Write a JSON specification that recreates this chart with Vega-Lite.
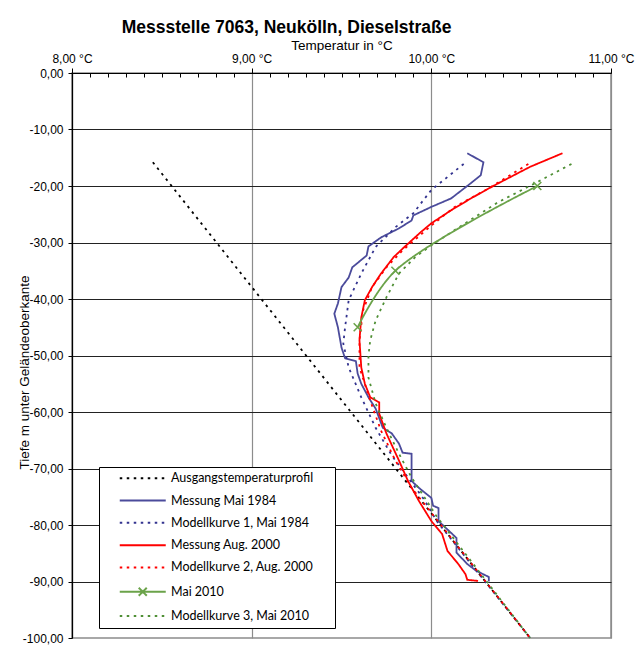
{
  "$schema": "https://vega.github.io/schema/vega-lite/v6.json",
  "width": 539,
  "height": 565,
  "autosize": "none",
  "padding": {"left": 72, "top": 73, "right": 24, "bottom": 20},
  "background": "white",
  "title": {"text": "Messstelle 7063, Neukölln, Dieselstraße", "font": "Liberation Sans", "fontSize": 17.5, "fontWeight": "bold", "color": "black", "anchor": "middle", "dx": -55, "offset": 2},
  "data": {"values": [
    {"s": "Ausgangstemperaturprofil", "i": 0, "t": 8.45, "d": -15.8},
    {"s": "Ausgangstemperaturprofil", "i": 1, "t": 10.55, "d": -100},

    {"s": "Messung Mai 1984", "i": 0, "t": 10.20, "d": -14.2},
    {"s": "Messung Mai 1984", "i": 1, "t": 10.29, "d": -15.8},
    {"s": "Messung Mai 1984", "i": 2, "t": 10.275, "d": -18.1},
    {"s": "Messung Mai 1984", "i": 3, "t": 10.22, "d": -19.5},
    {"s": "Messung Mai 1984", "i": 4, "t": 10.11, "d": -22.2},
    {"s": "Messung Mai 1984", "i": 5, "t": 10.0, "d": -23.7},
    {"s": "Messung Mai 1984", "i": 6, "t": 9.90, "d": -25.2},
    {"s": "Messung Mai 1984", "i": 7, "t": 9.89, "d": -26.1},
    {"s": "Messung Mai 1984", "i": 8, "t": 9.82, "d": -27.5},
    {"s": "Messung Mai 1984", "i": 9, "t": 9.72, "d": -29.1},
    {"s": "Messung Mai 1984", "i": 10, "t": 9.65, "d": -30.7},
    {"s": "Messung Mai 1984", "i": 11, "t": 9.64, "d": -32.3},
    {"s": "Messung Mai 1984", "i": 12, "t": 9.56, "d": -34.4},
    {"s": "Messung Mai 1984", "i": 13, "t": 9.54, "d": -36.2},
    {"s": "Messung Mai 1984", "i": 14, "t": 9.50, "d": -37.9},
    {"s": "Messung Mai 1984", "i": 15, "t": 9.48, "d": -40.8},
    {"s": "Messung Mai 1984", "i": 16, "t": 9.46, "d": -42.6},
    {"s": "Messung Mai 1984", "i": 17, "t": 9.48, "d": -45.0},
    {"s": "Messung Mai 1984", "i": 18, "t": 9.50, "d": -48.6},
    {"s": "Messung Mai 1984", "i": 19, "t": 9.52, "d": -50.5},
    {"s": "Messung Mai 1984", "i": 20, "t": 9.58, "d": -51.0},
    {"s": "Messung Mai 1984", "i": 21, "t": 9.59, "d": -53.2},
    {"s": "Messung Mai 1984", "i": 22, "t": 9.61, "d": -55.0},
    {"s": "Messung Mai 1984", "i": 23, "t": 9.65, "d": -57.4},
    {"s": "Messung Mai 1984", "i": 24, "t": 9.69, "d": -59.4},
    {"s": "Messung Mai 1984", "i": 25, "t": 9.73, "d": -62.8},
    {"s": "Messung Mai 1984", "i": 26, "t": 9.78, "d": -63.8},
    {"s": "Messung Mai 1984", "i": 27, "t": 9.82, "d": -65.6},
    {"s": "Messung Mai 1984", "i": 28, "t": 9.84, "d": -67.2},
    {"s": "Messung Mai 1984", "i": 29, "t": 9.89, "d": -67.4},
    {"s": "Messung Mai 1984", "i": 30, "t": 9.89, "d": -72.2},
    {"s": "Messung Mai 1984", "i": 31, "t": 9.93, "d": -73.4},
    {"s": "Messung Mai 1984", "i": 32, "t": 10.0, "d": -75.2},
    {"s": "Messung Mai 1984", "i": 33, "t": 10.01, "d": -76.6},
    {"s": "Messung Mai 1984", "i": 34, "t": 10.04, "d": -77.0},
    {"s": "Messung Mai 1984", "i": 35, "t": 10.04, "d": -79.3},
    {"s": "Messung Mai 1984", "i": 36, "t": 10.08, "d": -80.5},
    {"s": "Messung Mai 1984", "i": 37, "t": 10.14, "d": -82.3},
    {"s": "Messung Mai 1984", "i": 38, "t": 10.14, "d": -84.9},
    {"s": "Messung Mai 1984", "i": 39, "t": 10.20, "d": -86.9},
    {"s": "Messung Mai 1984", "i": 40, "t": 10.25, "d": -88.1},
    {"s": "Messung Mai 1984", "i": 41, "t": 10.32, "d": -89.2},
    {"s": "Messung Mai 1984", "i": 42, "t": 10.32, "d": -90.0},

    {"s": "Modellkurve 1, Mai 1984", "i": 0, "t": 10.18, "d": -16.1},
    {"s": "Modellkurve 1, Mai 1984", "i": 1, "t": 10.0, "d": -20.7},
    {"s": "Modellkurve 1, Mai 1984", "i": 2, "t": 9.90, "d": -24.8},
    {"s": "Modellkurve 1, Mai 1984", "i": 3, "t": 9.80, "d": -27.3},
    {"s": "Modellkurve 1, Mai 1984", "i": 4, "t": 9.69, "d": -30.8},
    {"s": "Modellkurve 1, Mai 1984", "i": 5, "t": 9.61, "d": -35.5},
    {"s": "Modellkurve 1, Mai 1984", "i": 6, "t": 9.54, "d": -40.2},
    {"s": "Modellkurve 1, Mai 1984", "i": 7, "t": 9.52, "d": -45.0},
    {"s": "Modellkurve 1, Mai 1984", "i": 8, "t": 9.51, "d": -47.9},
    {"s": "Modellkurve 1, Mai 1984", "i": 9, "t": 9.54, "d": -52.1},
    {"s": "Modellkurve 1, Mai 1984", "i": 10, "t": 9.61, "d": -57.4},
    {"s": "Modellkurve 1, Mai 1984", "i": 11, "t": 9.69, "d": -62.8},
    {"s": "Modellkurve 1, Mai 1984", "i": 12, "t": 9.78, "d": -67.7},
    {"s": "Modellkurve 1, Mai 1984", "i": 13, "t": 9.87, "d": -71.6},
    {"s": "Modellkurve 1, Mai 1984", "i": 14, "t": 9.96, "d": -75.5},
    {"s": "Modellkurve 1, Mai 1984", "i": 15, "t": 10.03, "d": -79.3},
    {"s": "Modellkurve 1, Mai 1984", "i": 16, "t": 10.55, "d": -100},

    {"s": "Messung Aug. 2000", "i": 0, "t": 10.73, "d": -14.2},
    {"s": "Messung Aug. 2000", "i": 1, "t": 10.55, "d": -16.6},
    {"s": "Messung Aug. 2000", "i": 2, "t": 10.35, "d": -19.9},
    {"s": "Messung Aug. 2000", "i": 3, "t": 10.22, "d": -22.2},
    {"s": "Messung Aug. 2000", "i": 4, "t": 10.11, "d": -24.3},
    {"s": "Messung Aug. 2000", "i": 5, "t": 10.0, "d": -26.6},
    {"s": "Messung Aug. 2000", "i": 6, "t": 9.94, "d": -28.2},
    {"s": "Messung Aug. 2000", "i": 7, "t": 9.85, "d": -30.8},
    {"s": "Messung Aug. 2000", "i": 8, "t": 9.79, "d": -32.6},
    {"s": "Messung Aug. 2000", "i": 9, "t": 9.72, "d": -35.5},
    {"s": "Messung Aug. 2000", "i": 10, "t": 9.67, "d": -37.9},
    {"s": "Messung Aug. 2000", "i": 11, "t": 9.63, "d": -40.2},
    {"s": "Messung Aug. 2000", "i": 12, "t": 9.61, "d": -43.3},
    {"s": "Messung Aug. 2000", "i": 13, "t": 9.60, "d": -47.3},
    {"s": "Messung Aug. 2000", "i": 14, "t": 9.61, "d": -52.1},
    {"s": "Messung Aug. 2000", "i": 15, "t": 9.63, "d": -55.0},
    {"s": "Messung Aug. 2000", "i": 16, "t": 9.66, "d": -57.4},
    {"s": "Messung Aug. 2000", "i": 17, "t": 9.71, "d": -58.3},
    {"s": "Messung Aug. 2000", "i": 18, "t": 9.71, "d": -60.3},
    {"s": "Messung Aug. 2000", "i": 19, "t": 9.75, "d": -63.8},
    {"s": "Messung Aug. 2000", "i": 20, "t": 9.82, "d": -68.6},
    {"s": "Messung Aug. 2000", "i": 21, "t": 9.87, "d": -72.2},
    {"s": "Messung Aug. 2000", "i": 22, "t": 9.93, "d": -75.7},
    {"s": "Messung Aug. 2000", "i": 23, "t": 10.0, "d": -79.3},
    {"s": "Messung Aug. 2000", "i": 24, "t": 10.06, "d": -81.6},
    {"s": "Messung Aug. 2000", "i": 25, "t": 10.09, "d": -84.6},
    {"s": "Messung Aug. 2000", "i": 26, "t": 10.15, "d": -86.9},
    {"s": "Messung Aug. 2000", "i": 27, "t": 10.19, "d": -88.7},
    {"s": "Messung Aug. 2000", "i": 28, "t": 10.20, "d": -89.7},
    {"s": "Messung Aug. 2000", "i": 29, "t": 10.26, "d": -89.9},

    {"s": "Modellkurve 2, Aug. 2000", "i": 0, "t": 10.54, "d": -16.1},
    {"s": "Modellkurve 2, Aug. 2000", "i": 1, "t": 10.32, "d": -20.4},
    {"s": "Modellkurve 2, Aug. 2000", "i": 2, "t": 10.13, "d": -23.7},
    {"s": "Modellkurve 2, Aug. 2000", "i": 3, "t": 10.0, "d": -27.0},
    {"s": "Modellkurve 2, Aug. 2000", "i": 4, "t": 9.84, "d": -31.4},
    {"s": "Modellkurve 2, Aug. 2000", "i": 5, "t": 9.75, "d": -34.4},
    {"s": "Modellkurve 2, Aug. 2000", "i": 6, "t": 9.67, "d": -37.9},
    {"s": "Modellkurve 2, Aug. 2000", "i": 7, "t": 9.62, "d": -42.0},
    {"s": "Modellkurve 2, Aug. 2000", "i": 8, "t": 9.60, "d": -47.3},
    {"s": "Modellkurve 2, Aug. 2000", "i": 9, "t": 9.60, "d": -52.1},
    {"s": "Modellkurve 2, Aug. 2000", "i": 10, "t": 9.66, "d": -58.0},
    {"s": "Modellkurve 2, Aug. 2000", "i": 11, "t": 9.72, "d": -63.3},
    {"s": "Modellkurve 2, Aug. 2000", "i": 12, "t": 9.80, "d": -68.6},
    {"s": "Modellkurve 2, Aug. 2000", "i": 13, "t": 9.89, "d": -73.4},
    {"s": "Modellkurve 2, Aug. 2000", "i": 14, "t": 10.55, "d": -100},

    {"s": "Mai 2010", "i": 0, "t": 10.59, "d": -20},
    {"s": "Mai 2010", "i": 1, "t": 9.80, "d": -35},
    {"s": "Mai 2010", "i": 2, "t": 9.59, "d": -45},

    {"s": "Modellkurve 3, Mai 2010", "i": 0, "t": 10.78, "d": -16.1},
    {"s": "Modellkurve 3, Mai 2010", "i": 1, "t": 10.59, "d": -19.3},
    {"s": "Modellkurve 3, Mai 2010", "i": 2, "t": 10.37, "d": -22.9},
    {"s": "Modellkurve 3, Mai 2010", "i": 3, "t": 10.13, "d": -27.8},
    {"s": "Modellkurve 3, Mai 2010", "i": 4, "t": 10.0, "d": -30.5},
    {"s": "Modellkurve 3, Mai 2010", "i": 5, "t": 9.91, "d": -32.6},
    {"s": "Modellkurve 3, Mai 2010", "i": 6, "t": 9.82, "d": -35.5},
    {"s": "Modellkurve 3, Mai 2010", "i": 7, "t": 9.75, "d": -39.7},
    {"s": "Modellkurve 3, Mai 2010", "i": 8, "t": 9.69, "d": -43.8},
    {"s": "Modellkurve 3, Mai 2010", "i": 9, "t": 9.66, "d": -47.3},
    {"s": "Modellkurve 3, Mai 2010", "i": 10, "t": 9.65, "d": -50.0},
    {"s": "Modellkurve 3, Mai 2010", "i": 11, "t": 9.65, "d": -53.9},
    {"s": "Modellkurve 3, Mai 2010", "i": 12, "t": 9.69, "d": -58.5},
    {"s": "Modellkurve 3, Mai 2010", "i": 13, "t": 9.75, "d": -62.8},
    {"s": "Modellkurve 3, Mai 2010", "i": 14, "t": 9.82, "d": -67.4},
    {"s": "Modellkurve 3, Mai 2010", "i": 15, "t": 9.89, "d": -71.6},
    {"s": "Modellkurve 3, Mai 2010", "i": 16, "t": 9.97, "d": -75.5},
    {"s": "Modellkurve 3, Mai 2010", "i": 17, "t": 10.03, "d": -78.5},
    {"s": "Modellkurve 3, Mai 2010", "i": 18, "t": 10.55, "d": -100}
  ]},
  "encoding": {
    "x": {
      "field": "t", "type": "quantitative",
      "scale": {"domain": [8, 11], "nice": false, "zero": false},
      "axis": {
        "orient": "top",
        "title": "Temperatur in °C",
        "values": [8, 8.1, 8.2, 8.3, 8.4, 8.5, 8.6, 8.7, 8.8, 8.9, 9, 9.1, 9.2, 9.3, 9.4, 9.5, 9.6, 9.7, 9.8, 9.9, 10, 10.1, 10.2, 10.3, 10.4, 10.5, 10.6, 10.7, 10.8, 10.9, 11],
        "labelExpr": "abs(datum.value - round(datum.value)) < 0.001 ? replace(format(datum.value, '.2f'), '.', ',') + ' °C' : ''",
        "labelOverlap": false,
        "labelFlush": false,
        "labelFont": "Liberation Sans",
        "labelFontSize": 12,
        "labelColor": "black",
        "labelPadding": 3,
        "tickSize": {"condition": {"test": "abs(datum.value - round(datum.value)) < 0.001", "value": 5}, "value": -4},
        "tickColor": "black",
        "tickWidth": 1,
        "domainColor": "black",
        "domainWidth": 1.2,
        "grid": true,
        "gridColor": "#8c8c8c",
        "gridWidth": 1.2,
        "gridOpacity": {"condition": {"test": "abs(datum.value - round(datum.value)) < 0.001", "value": 1}, "value": 0},
        "titleFont": "Liberation Sans",
        "titleFontSize": 13.5,
        "titleFontWeight": "normal",
        "titleColor": "black",
        "titlePadding": 0
      }
    },
    "y": {
      "field": "d", "type": "quantitative",
      "scale": {"domain": [-100, 0], "nice": false, "zero": false},
      "axis": {
        "orient": "left",
        "title": "Tiefe m unter Geländeoberkante",
        "values": [-100, -90, -80, -70, -60, -50, -40, -30, -20, -10, 0],
        "labelExpr": "(datum.value < 0 ? '-' : '') + replace(format(abs(datum.value), '.2f'), '.', ',')",
        "labelOverlap": false,
        "labelFlush": false,
        "labelFont": "Liberation Sans",
        "labelFontSize": 12,
        "labelColor": "black",
        "labelPadding": 5,
        "tickSize": 4,
        "tickColor": "black",
        "domainColor": "black",
        "domainWidth": 1.2,
        "grid": true,
        "gridColor": "#222222",
        "gridWidth": 1,
        "gridOpacity": {"condition": {"test": "datum.value > -99", "value": 1}, "value": 0},
        "titleFont": "Liberation Sans",
        "titleFontSize": 13.5,
        "titleFontWeight": "normal",
        "titleColor": "black",
        "titleX": -41,
        "titleY": 299
      }
    }
  },
  "layer": [
    {
      "transform": [{"filter": "datum.s !== 'Mai 2010'"}],
      "mark": {"type": "line", "strokeWidth": 1.8},
      "encoding": {
        "color": {
          "field": "s", "type": "nominal",
          "scale": {
            "domain": ["Ausgangstemperaturprofil", "Messung Mai 1984", "Modellkurve 1, Mai 1984", "Messung Aug. 2000", "Modellkurve 2, Aug. 2000", "Mai 2010", "Modellkurve 3, Mai 2010"],
            "range": ["#000000", "#4b4b9b", "#33338f", "#ff0000", "#ff0000", "#6ba34a", "#4f8f35"]
          },
          "legend": {
            "title": null,
            "orient": "none",
            "legendX": 27,
            "legendY": 394,
            "padding": 5,
            "strokeColor": "black",
            "fillColor": "white",
            "cornerRadius": 0,
            "symbolSize": 100,
            "symbolOffset": 32.5,
            "labelOffset": 22,
            "rowPadding": 9.3,
            "labelFont": "Lato",
            "labelFontSize": 12.5,
            "labelColor": "black",
            "labelLimit": 0,
            "symbolStrokeWidth": 2,
            "symbolType": "M-4.6,0L4.6,0M36.5,0L36.5,0",
            "encode": {
              "symbols": {
                "update": {
                  "shape": {"signal": "datum.value === 'Mai 2010' ? 'M-4.6,0L4.6,0M-0.8,-0.8L0.8,0.8M-0.8,0.8L0.8,-0.8M36.5,0L36.5,0' : 'M-4.6,0L4.6,0M36.5,0L36.5,0'"}
                }
              }
            }
          }
        },
        "strokeDash": {
          "field": "s", "type": "nominal",
          "scale": {
            "domain": ["Ausgangstemperaturprofil", "Messung Mai 1984", "Modellkurve 1, Mai 1984", "Messung Aug. 2000", "Modellkurve 2, Aug. 2000", "Mai 2010", "Modellkurve 3, Mai 2010"],
            "range": [[2.5, 4.5], [1, 0], [2.5, 4.5], [1, 0], [2.5, 4.5], [1, 0], [2.5, 4.5]]
          }
        },
        "order": {"field": "i"}
      }
    },
    {
      "transform": [{"filter": "datum.s === 'Mai 2010'"}],
      "mark": {"type": "line", "strokeWidth": 1.8, "interpolate": "catmull-rom"},
      "encoding": {
        "color": {"field": "s", "type": "nominal"},
        "strokeDash": {"field": "s", "type": "nominal"},
        "order": {"field": "i"}
      }
    },
    {
      "transform": [{"filter": "datum.s === 'Mai 2010'"}],
      "mark": {"type": "point", "shape": "M-1,-1L1,1M-1,1L1,-1", "size": 64, "filled": false, "strokeWidth": 1.6, "color": "#6ba34a", "opacity": 1}
    }
  ],
  "config": {
    "view": {"stroke": "#8c8c8c", "strokeWidth": 1.5}
  }
}
